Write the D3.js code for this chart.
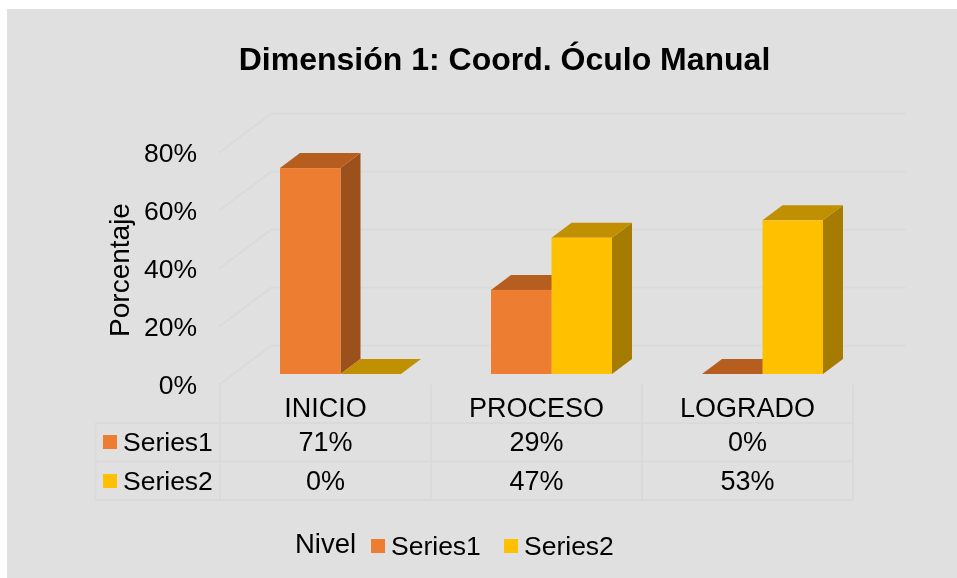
<!DOCTYPE html>
<html>
<head>
<meta charset="utf-8">
<script src="https://cdnjs.cloudflare.com/ajax/libs/d3/7.8.5/d3.min.js"></script>
<style>
	html, body { margin: 0; background: #fff; }
	svg { display: block; filter: blur(0.4px); }
	text { font-family: "Liberation Sans", Arial, sans-serif; fill: #000; }
</style>
</head>
<body>
<script>
// Data
var categories = ["INICIO", "PROCESO", "LOGRADO"];
var seriesNames = ["Series1", "Series2"];
var series1 = [0.71, 0.29, 0];
var series2 = [0, 0.47, 0.53];
var yTicks = [0, 0.2, 0.4, 0.6, 0.8];
var seriesColors = ["#ed7d31", "#ffc000"];
var sideColors = ["#9c501c", "#a67c00"];
var topColors = ["#b65e20", "#c09000"];

var width = 957, height = 578;

var svg = d3.select("body").append("svg")
	.attr("width", width)
	.attr("height", height);

// Panel
svg.append("rect")
	.attr("x", 7).attr("y", 9)
	.attr("width", width - 7).attr("height", height - 9)
	.attr("fill", "#e0e0e0");

// Scales
var xScale = d3.scaleBand().domain(categories).range([220, 853]);
var yScale = d3.scaleLinear().domain([0, 0.8]).range([384.7, 152.7]);
var sideScale = d3.scaleBand().domain(seriesNames).range([60, 181]);
var fmt = d3.format(".0%");

// 3D offsets
var wallDx = 52, wallDy = -39;   // floor depth
var barDy = -10.7;               // bars sit a bit behind the front edge
var depthX = 20, depthY = -15;   // bar depth
var gridColor = "#dadada";

// Gridlines: side wall + back wall
var grid = svg.append("g")
	.attr("fill", "none")
	.attr("stroke", gridColor)
	.attr("stroke-width", 1.8);

yTicks.forEach(function(t) {
	grid.append("path")
		.attr("d", "M" + 219 + "," + yScale(t) + "L" + (219 + wallDx) + "," + (yScale(t) + wallDy) + "L906," + (yScale(t) + wallDy));
});

// Y tick labels
svg.append("g").selectAll("text")
	.data(yTicks)
	.enter()
	.append("text")
	.attr("x", 197)
	.attr("y", function(d) { return yScale(d) + 9.5; })
	.attr("text-anchor", "end")
	.attr("font-size", 26.5)
	.text(fmt);

// Y axis label
svg.append("text")
	.attr("transform", "translate(129,270) rotate(-90)")
	.attr("text-anchor", "middle")
	.attr("font-size", 28)
	.text("Porcentaje");

// Bars
var rows = [];
categories.forEach(function(c, i) {
	rows.push({cat: c, name: seriesNames[0], value: series1[i], s: 0});
	rows.push({cat: c, name: seriesNames[1], value: series2[i], s: 1});
});

function barPoints(d) {
	var x0 = xScale(d.cat) + sideScale(d.name);
	var x1 = x0 + sideScale.bandwidth();
	return {x0: x0, x1: x1, y0: yScale(0) + barDy, y1: yScale(d.value) + barDy};
}

var bars = svg.append("g").selectAll("g")
	.data(rows)
	.enter()
	.append("g");

// side face, then top, then front, so the neighbour bar covers the top
bars.append("path")
	.attr("fill", function(d) { return sideColors[d.s]; })
	.attr("d", function(d) {
		var p = barPoints(d);
		return "M" + p.x1 + "," + p.y1 + "L" + (p.x1 + depthX) + "," + (p.y1 + depthY) +
			"L" + (p.x1 + depthX) + "," + (p.y0 + depthY) + "L" + p.x1 + "," + p.y0 + "Z";
	});

bars.append("path")
	.attr("fill", function(d) { return topColors[d.s]; })
	.attr("d", function(d) {
		var p = barPoints(d);
		return "M" + p.x0 + "," + p.y1 + "L" + (p.x0 + depthX) + "," + (p.y1 + depthY) +
			"L" + (p.x1 + depthX) + "," + (p.y1 + depthY) + "L" + p.x1 + "," + p.y1 + "Z";
	});

bars.append("rect")
	.attr("fill", function(d) { return seriesColors[d.s]; })
	.attr("x", function(d) { return barPoints(d).x0; })
	.attr("y", function(d) { return barPoints(d).y1; })
	.attr("width", sideScale.bandwidth())
	.attr("height", function(d) { var p = barPoints(d); return p.y0 - p.y1; });

// Data table lines
var tableTop = 384.7, rowLines = [423, 461.5, 500], tableLeft = 95.5;
var tableLines = svg.append("g")
	.attr("stroke", gridColor)
	.attr("stroke-width", 2);

xScale.domain().concat("end").forEach(function(c) {
	var x = c == "end" ? xScale.range()[1] : xScale(c);
	tableLines.append("line")
		.attr("x1", x).attr("x2", x)
		.attr("y1", tableTop).attr("y2", rowLines[2]);
});
rowLines.forEach(function(y) {
	tableLines.append("line")
		.attr("x1", tableLeft).attr("x2", 853)
		.attr("y1", y).attr("y2", y);
});
tableLines.append("line")
	.attr("x1", tableLeft).attr("x2", tableLeft)
	.attr("y1", rowLines[0]).attr("y2", rowLines[2]);

// Category labels
svg.append("g").selectAll("text")
	.data(categories)
	.enter()
	.append("text")
	.attr("x", function(d) { return xScale(d) + xScale.bandwidth() / 2; })
	.attr("y", 417)
	.attr("text-anchor", "middle")
	.attr("font-size", 27)
	.text(function(d) { return d; });

// Table rows
[series1, series2].forEach(function(vals, r) {
	var rowY = [451, 490][r];
	svg.append("rect")
		.attr("x", 103).attr("y", rowY - 16)
		.attr("width", 14).attr("height", 14)
		.attr("fill", seriesColors[r]);
	svg.append("text")
		.attr("x", 123).attr("y", rowY)
		.attr("font-size", 26.5)
		.text(seriesNames[r]);
	svg.append("g").selectAll("text")
		.data(vals)
		.enter()
		.append("text")
		.attr("x", function(d, i) { return xScale(categories[i]) + xScale.bandwidth() / 2; })
		.attr("y", rowY)
		.attr("text-anchor", "middle")
		.attr("font-size", 27)
		.text(fmt);
});

// Legend
svg.append("text")
	.attr("x", 295).attr("y", 553)
	.attr("font-size", 27.5)
	.text("Nivel");

var legendX = [371, 504];
seriesNames.forEach(function(n, i) {
	svg.append("rect")
		.attr("x", legendX[i]).attr("y", 539)
		.attr("width", 14).attr("height", 14)
		.attr("fill", seriesColors[i]);
	svg.append("text")
		.attr("x", legendX[i] + 20).attr("y", 555)
		.attr("font-size", 26.5)
		.text(n);
});

// Title
svg.append("text")
	.attr("x", 504.5).attr("y", 70)
	.attr("text-anchor", "middle")
	.attr("font-size", 32)
	.attr("font-weight", "bold")
	.text("Dimensión 1: Coord. Óculo Manual");
</script>
</body>
</html>
